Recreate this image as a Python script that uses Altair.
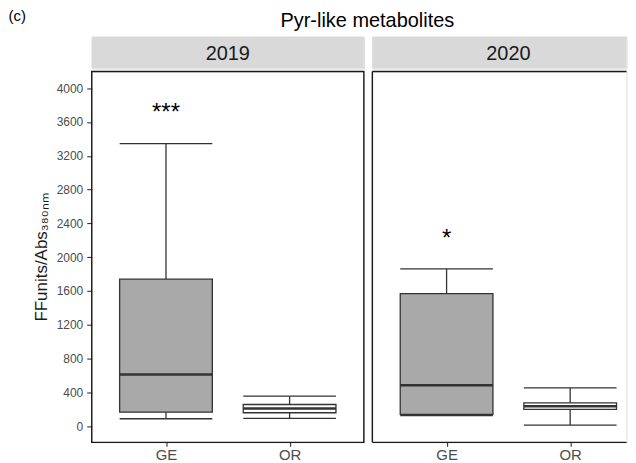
import altair as alt
import pandas as pd

# ---- data ----
years = ["2019", "2019", "2020", "2020"]
groups = ["GE", "OR", "GE", "OR"]
whisker_low = [87, 91, 125, 12]
q1 = [165, 158, 138, 197]
median = [610, 209, 484, 236]
q3 = [1739, 256, 1569, 276]
whisker_high = [3344, 354, 1861, 453]
sig_label = ["***", "", "*", ""]
sig_y = [3620, None, 2133, None]

group_order = ["GE", "OR"]
group_fill = ["#a9a9a9", "#ffffff"]
y_ticks = list(range(0, 4001, 400))
y_domain = [-192, 4197]
main_title = "Pyr-like metabolites"
panel_tag = "(c)"
y_title = "FFunits/Abs₃₈₀ₙₘ"

df = pd.DataFrame(dict(year=years, group=groups, low=whisker_low, q1=q1,
                       median=median, q3=q3, high=whisker_high,
                       sig=sig_label, sig_y=sig_y))

FONT = "Liberation Sans"
LINE = "#333333"
W1, W2, H, SH = 273, 255, 372, 32
BOX_W = 93
GAP = 8.5
LW = 1.3


def panel(year, first, width):
    d = df[df.year == year]
    xenc = alt.X("group:N",
                 scale=alt.Scale(type="point", domain=group_order,
                                 range=[74.5, 198.5], padding=0),
                 axis=alt.Axis(title=None, labelFontSize=15, labelColor="#4d4d4d",
                               labelFont=FONT, tickColor=LINE, tickSize=4,
                               tickWidth=1.1, domain=False, labelPadding=1,
                               labelAngle=0))
    yscale = alt.Scale(domain=y_domain, nice=False, zero=False)
    if first:
        yaxis = alt.Axis(values=y_ticks, title=y_title, titleFont=FONT,
                         titleFontSize=17, titleFontWeight="normal",
                         titleColor="#1a1a1a", titlePadding=6, format="d",
                         labelFont=FONT, labelFontSize=12, labelColor="#4d4d4d",
                         labelOverlap=False, labelFlush=False,
                         tickColor=LINE, tickSize=5, tickWidth=1.1,
                         labelPadding=4, domain=False, grid=False)
    else:
        yaxis = None

    def Y(field):
        return alt.Y(field, scale=yscale, axis=yaxis)

    base = alt.Chart(d)
    w_up = base.mark_rule(color=LINE, strokeWidth=LW).encode(
        x=xenc, y=Y("q3:Q"), y2="high:Q")
    w_dn = base.mark_rule(color=LINE, strokeWidth=LW).encode(
        x="group:N", y=Y("low:Q"), y2="q1:Q")
    box = base.mark_bar(size=BOX_W, stroke=LINE, strokeWidth=LW).encode(
        x="group:N", y=Y("q1:Q"), y2="q3:Q",
        fill=alt.Fill("group:N", scale=alt.Scale(domain=group_order, range=group_fill),
                      legend=None))
    cap_hi = base.mark_tick(size=BOX_W, thickness=LW, color=LINE, opacity=1).encode(
        x="group:N", y=Y("high:Q"))
    cap_lo = base.mark_tick(size=BOX_W, thickness=LW, color=LINE, opacity=1).encode(
        x="group:N", y=Y("low:Q"))
    med = base.mark_tick(size=BOX_W, thickness=2.6, color=LINE, opacity=1).encode(
        x="group:N", y=Y("median:Q"))
    stars = base.transform_filter("datum.sig != ''").mark_text(
        fontSize=24, font=FONT, color="#000000", baseline="alphabetic").encode(
        x="group:N", y=Y("sig_y:Q"), text="sig:N")
    one = alt.Chart(pd.DataFrame({"year": [year]}))
    if first:
        border = [one.mark_rect(filled=False, stroke="#1a1a1a", strokeWidth=1.4).encode(
            x=alt.value(0), x2=alt.value(width), y=alt.value(0), y2=alt.value(H))]
    else:
        border = [
            one.mark_rule(color="#1a1a1a", strokeWidth=1.4).encode(
                x=alt.value(0), x2=alt.value(width), y=alt.value(0)),
            one.mark_rule(color="#1a1a1a", strokeWidth=1.4).encode(
                x=alt.value(0), y=alt.value(0), y2=alt.value(H)),
            one.mark_rule(color="#1a1a1a", strokeWidth=1.4).encode(
                x=alt.value(0), x2=alt.value(width), y=alt.value(H)),
        ]
    return alt.layer(w_up, w_dn, box, cap_hi, cap_lo, med, stars, *border).properties(
        width=width, height=H)


def strip(year, first, width):
    one = alt.Chart(pd.DataFrame({"year": [year], "tag": [panel_tag],
                                  "title": [main_title]}))
    bg = one.mark_rect(fill="#d9d9d9").encode(
        x=alt.value(0), x2=alt.value(width), y=alt.value(0), y2=alt.value(SH))
    lab = one.mark_text(fontSize=20, font=FONT, color="#1a1a1a",
                        baseline="middle", align="center").encode(
        x=alt.value(W1 / 2), y=alt.value(SH / 2 + 1), text="year:N")
    layers = [bg, lab]
    if first:
        layers.append(one.mark_text(fontSize=15, font=FONT, color="#000000",
                                    align="left", baseline="alphabetic").encode(
            x=alt.value(-83.5), y=alt.value(-15.5), text="tag:N"))
        layers.append(one.mark_text(fontSize=20, font=FONT, color="#000000",
                                    align="center", baseline="alphabetic").encode(
            x=alt.value(276.5), y=alt.value(-10), text="title:N"))
    return alt.layer(*layers).properties(width=width, height=SH)


strips = alt.hconcat(strip("2019", True, W1), strip("2020", False, W2),
                     spacing=GAP, bounds="flush")
panels = alt.hconcat(panel("2019", True, W1), panel("2020", False, W2),
                     spacing=GAP, bounds="flush")

chart = alt.vconcat(strips, panels, spacing=0).properties(
    padding=0).configure_view(stroke=None).configure(font=FONT)

chart.save("out.html", embed_options={"renderer": "svg", "actions": False})
